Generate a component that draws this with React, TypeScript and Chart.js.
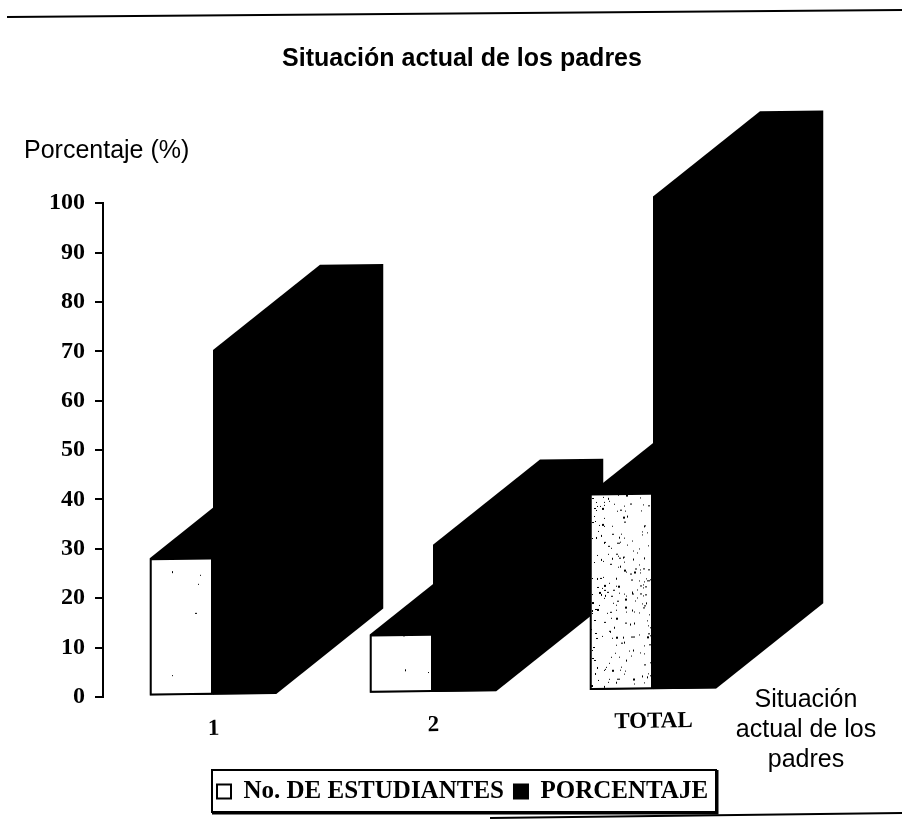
import React, { useEffect, useRef } from "react";
import { Chart, registerables } from "chart.js";

Chart.register(...registerables);

const categories = ["1", "2", "TOTAL"];
const estudiantes = [28, 12, 40];
const porcentaje = [70, 30, 100];
const yTicks = [0, 10, 20, 30, 40, 50, 60, 70, 80, 90, 100];
const chartTitle = "Situación actual de los padres";
const yLabel = "Porcentaje (%)";
const xLabelLines = ["Situación", "actual de los", "padres"];
const seriesNames = ["No. DE ESTUDIANTES", "PORCENTAJE"];

const DEPTH_X = 107;
const DEPTH_Y = -84;
const SHEAR = -0.0122;
const LABEL_TILT = (-0.95 * Math.PI) / 180;

function speckle(dense: boolean): CanvasPattern | string {
  const c = document.createElement("canvas");
  c.width = 64;
  c.height = 200;
  const g = c.getContext("2d");
  if (!g) return "#fff";
  g.fillStyle = "#fff";
  g.fillRect(0, 0, 64, 200);
  g.fillStyle = "#000";
  let s = 7;
  const n = dense ? 260 : 10;
  for (let i = 0; i < n; i++) {
    s = (s * 1103515245 + 12345) & 0x7fffffff;
    const x = (s >> 8) % 64;
    s = (s * 1103515245 + 12345) & 0x7fffffff;
    const y = (s >> 8) % 200;
    g.fillRect(x, y, 1 + (i % 3 === 0 ? 1 : 0), 1 + (i % 4 === 0 ? 1 : 0));
  }
  return g.createPattern(c, "repeat") || "#fff";
}

const depthPlugin = {
  id: "depth",
  afterLayout(chart: any) {
    const t = chart.titleBlock;
    if (t) {
      t.left = 22;
      t.right = 902;
      t.width = 880;
    }
    const l = chart.legend;
    if (l) {
      l.left = 207;
      l.right = 800;
      l.width = 593;
      l.top = 769;
      l.bottom = 769 + l.height;
    }
    const x = chart.scales.x;
    if (x && !x._wrapped) {
      x._wrapped = true;
      const orig = x.drawLabels;
      x.drawLabels = function (area: any) {
        const ctx = chart.ctx;
        const ox = chart.chartArea.left;
        const oy = chart.chartArea.bottom;
        ctx.save();
        ctx.translate(ox, oy);
        ctx.rotate(LABEL_TILT);
        ctx.translate(-ox, -oy);
        orig.call(this, area);
        ctx.restore();
      };
    }
  },
  beforeDatasetsDraw(chart: any) {
    const ctx = chart.ctx;
    const ox = chart.chartArea.left;
    const oy = chart.chartArea.bottom;
    ctx.save();
    ctx.translate(ox, oy);
    ctx.transform(1, SHEAR, 0, 1, 0, 0);
    ctx.translate(-ox, -oy);
    ctx.fillStyle = "#000";
    chart.data.datasets.forEach((_: any, di: number) => {
      chart.getDatasetMeta(di).data.forEach((b: any) => {
        const left = b.x - b.width / 2;
        const right = b.x + b.width / 2;
        const top = b.y;
        const base = b.base;
        ctx.beginPath();
        ctx.moveTo(left, top);
        ctx.lineTo(left + DEPTH_X, top + DEPTH_Y);
        ctx.lineTo(right + DEPTH_X, top + DEPTH_Y);
        ctx.lineTo(right + DEPTH_X, base + DEPTH_Y);
        ctx.lineTo(right, base);
        ctx.lineTo(left, base);
        ctx.closePath();
        ctx.fill();
      });
    });
  },
  afterDatasetsDraw(chart: any) {
    chart.ctx.restore();
  },
  afterDraw(chart: any) {
    const ctx = chart.ctx;
    ctx.save();
    ctx.fillStyle = "#000";
    ctx.strokeStyle = "#000";
    ctx.font = "25px 'Liberation Sans'";
    ctx.textBaseline = "middle";
    ctx.textAlign = "left";
    ctx.fillText(yLabel, 24, 151);
    ctx.textAlign = "center";
    xLabelLines.forEach((line, i) => ctx.fillText(line, 806, 700 + i * 30));
    ctx.lineWidth = 2;
    ctx.strokeRect(212, 770, 504, 42);
    ctx.lineWidth = 3;
    ctx.beginPath();
    ctx.moveTo(212, 813);
    ctx.lineTo(717, 813);
    ctx.lineTo(717, 770);
    ctx.stroke();
    ctx.lineWidth = 2;
    ctx.beginPath();
    ctx.moveTo(7, 17);
    ctx.lineTo(902, 10);
    ctx.stroke();
    ctx.beginPath();
    ctx.moveTo(490, 818);
    ctx.lineTo(902, 813);
    ctx.stroke();
    ctx.restore();
  },
};

export default function App() {
  const ref = useRef<HTMLCanvasElement>(null);
  useEffect(() => {
    if (!ref.current) return;
    const serif = "'Liberation Serif'";
    const chart = new Chart(ref.current, {
      type: "bar",
      data: {
        labels: categories,
        datasets: [
          {
            label: seriesNames[0],
            data: estudiantes,
            backgroundColor: [speckle(false), speckle(false), speckle(true)],
            borderColor: "#000",
            borderWidth: 2,
            borderSkipped: false,
            clip: false,
          },
          {
            label: seriesNames[1],
            data: porcentaje,
            backgroundColor: "#000",
            borderColor: "#000",
            borderWidth: 2,
            borderSkipped: false,
            clip: false,
          },
        ],
      } as any,
      options: {
        responsive: false,
        animation: false,
        layout: { padding: { left: 0, right: 139, top: 0, bottom: 18 } },
        categoryPercentage: 0.575,
        barPercentage: 1,
        scales: {
          x: {
            grid: { display: false },
            border: { display: false },
            afterFit: (s: any) => {
              s.height = 60;
            },
            ticks: {
              color: "#000",
              padding: 12,
              font: { family: serif, size: 23, weight: "bold" },
            },
          },
          y: {
            min: 0,
            max: 100,
            afterFit: (s: any) => {
              s.width = 103;
            },
            afterBuildTicks: (s: any) => {
              s.ticks = yTicks.map((value) => ({ value }));
            },
            grid: { drawOnChartArea: false, drawTicks: true, tickLength: 8, color: "#000", lineWidth: 2 },
            border: { display: true, color: "#000", width: 2 },
            ticks: {
              color: "#000",
              padding: 10,
              font: { family: serif, size: 24, weight: "bold" },
            },
          },
        },
        plugins: {
          tooltip: { enabled: false },
          title: {
            display: true,
            text: chartTitle,
            color: "#000",
            padding: { top: 44, bottom: 129.2 },
            font: { family: "'Liberation Sans'", size: 25, weight: "bold" },
          },
          legend: {
            display: true,
            position: "bottom",
            align: "start",
            labels: {
              color: "#000",
              boxWidth: 14,
              boxHeight: 14,
              padding: 10,
              font: { family: serif, size: 25, weight: "bold" },
              generateLabels: () =>
                seriesNames.map((text, i) => ({
                  text,
                  fillStyle: i === 0 ? "#fff" : "#000",
                  strokeStyle: "#000",
                  lineWidth: 2,
                  fontColor: "#000",
                  datasetIndex: i,
                })),
            },
          },
        },
      } as any,
      plugins: [depthPlugin],
    } as any);
    return () => chart.destroy();
  }, []);
  return (
    <div style={{ position: "absolute", left: 0, top: 0, width: 902, height: 820, background: "#fff" }}>
      <canvas ref={ref} width={902} height={820} style={{ display: "block" }} />
    </div>
  );
}
